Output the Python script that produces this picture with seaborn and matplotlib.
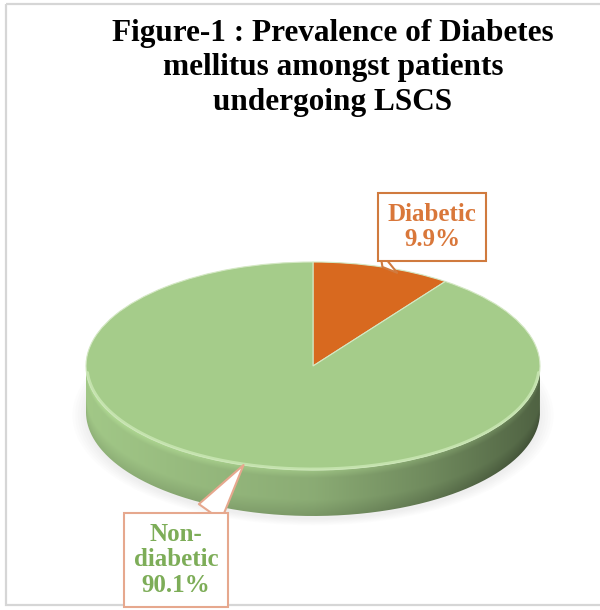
import numpy as np
import matplotlib
matplotlib.use("Agg")
import matplotlib.pyplot as plt
import seaborn as sns
from matplotlib.patches import PathPatch, Rectangle, Ellipse
from matplotlib.path import Path

# ---- data ----
categories = ["Diabetic", "Non-\ndiabetic"]
percent = [9.9, 90.1]
slice_colors = ["#d8691f", "#a5cc8a"]
label_colors = ["#d9773a", "#7dad58"]
box_edges = ["#d07a3e", "#e6a88e"]
title = "Figure-1 : Prevalence of Diabetes\nmellitus amongst patients\nundergoing LSCS"

sns.set_theme(style="white")
plt.rcParams["font.family"] = ["Liberation Serif", "DejaVu Serif"]

W, H = 600, 610
fig = plt.figure(figsize=(W / 100, H / 100), dpi=100)

# background axes in pixel coordinates (frame around the chart area)
bg = fig.add_axes([0, 0, 1, 1])
bg.set_xlim(0, W)
bg.set_ylim(H, 0)
bg.axis("off")
bg.add_patch(Rectangle((6, 4), 597, 601, fill=False, ec="#d6d6d6", lw=1.6))

fig.text(333 / W, 1 - 68 / H, title, ha="center", va="center",
         fontsize=22.5, fontweight="bold", color="black", linespacing=1.24)

# ---- pie geometry (ellipse of the top face, in pixels) ----
cx, cy, a, b = 313, 366, 227, 104
depth = 46 / b          # thickness of the disc in data units
x0, x1, y0, y1 = 30, 590, 215, 590
ax = fig.add_axes([x0 / W, 1 - y1 / H, (x1 - x0) / W, (y1 - y0) / H])

wedges, _ = ax.pie(percent, colors=slice_colors, startangle=90,
                   counterclock=False,
                   wedgeprops=dict(edgecolor="#d4e8c4", linewidth=0.8))
for w in wedges:
    w.set_zorder(4)

# faint soft shadow under the disc
for k in range(6):
    s = 1.0 + 0.012 * k
    ax.add_patch(Ellipse((0.0, -depth - 0.03), 2 * s, 2 * s,
                         fc="#8a8a8a", ec="none", alpha=0.018, zorder=0))

# side wall of the disc for every wedge facing the viewer
xs_h = [-1.0, -0.6, 0.0, 0.5, 0.85, 1.0]
ms_h = [0.98, 0.92, 0.84, 0.68, 0.54, 0.48]
gx = np.linspace(-1, 1, 500)
gy = np.linspace(-1 - depth, 0, 260)
GX, GY = np.meshgrid(gx, gy)
ytop = -np.sqrt(np.clip(1 - GX ** 2, 0, 1))
rel = np.clip((ytop - GY) / depth, 0, 1)
mult = np.interp(GX, xs_h, ms_h)
mult = mult + np.where(rel < 0.18, 0.12 * (1 - rel / 0.18), 0)
mult = mult - np.where(rel > 0.65, 0.10 * (rel - 0.65) / 0.35, 0)

for w, col in zip(wedges, slice_colors):
    t = np.deg2rad(np.linspace(w.theta1, w.theta2, 720))
    front = np.sin(t) <= 0
    if not front.any():
        continue
    idx = np.where(front)[0]
    splits = np.where(np.diff(idx) > 1)[0] + 1
    base = np.array(matplotlib.colors.to_rgb(col))
    rgb = np.clip(mult[..., None] * base[None, None, :], 0, 1)
    for seg in np.split(idx, splits):
        ts = t[seg]
        top = np.column_stack([np.cos(ts), np.sin(ts)])
        bot = np.column_stack([np.cos(ts), np.sin(ts) - depth])[::-1]
        verts = np.vstack([top, bot, top[:1]])
        patch = PathPatch(Path(verts), fc="none", ec="none", zorder=1)
        ax.add_patch(patch)
        im = ax.imshow(rgb, extent=(-1, 1, -1 - depth, 0), origin="lower",
                       aspect="auto", interpolation="bilinear", zorder=2)
        im.set_clip_path(patch)

# light bevel along the front rim of the top face
tt = np.linspace(np.pi * 1.02, np.pi * 1.98, 300)
ax.plot(np.cos(tt) * 0.995, np.sin(tt) * 0.99, color="#c9e6b3", lw=2.0,
        alpha=0.85, zorder=5, solid_capstyle="round")

ax.set_aspect("auto")
ax.set_xlim((x0 - cx) / a, (x1 - cx) / a)
ax.set_ylim((cy - y1) / b, (cy - y0) / b)
ax.axis("off")

# ---- callout labels ----
label_px = [(432, 227), (176, 560)]
for w, name, pct, tc, ec, (tx, ty) in zip(wedges, categories, percent,
                                          label_colors, box_edges, label_px):
    mid = np.deg2rad((w.theta1 + w.theta2) / 2)
    ax.annotate(f"{name}\n{pct:.1f}%", xy=(np.cos(mid), np.sin(mid)),
                xycoords="data", xytext=(tx, H - ty),
                textcoords="figure pixels", ha="center", va="center",
                fontsize=18, fontweight="bold", color=tc, linespacing=1.15,
                bbox=dict(boxstyle="square,pad=0.4", fc="white", ec=ec, lw=1.5),
                arrowprops=dict(arrowstyle="wedge,tail_width=1.1", fc="white",
                                ec=ec, lw=1.5, shrinkA=0, shrinkB=0),
                annotation_clip=False, zorder=6)

fig.savefig("out.png", dpi=100)
